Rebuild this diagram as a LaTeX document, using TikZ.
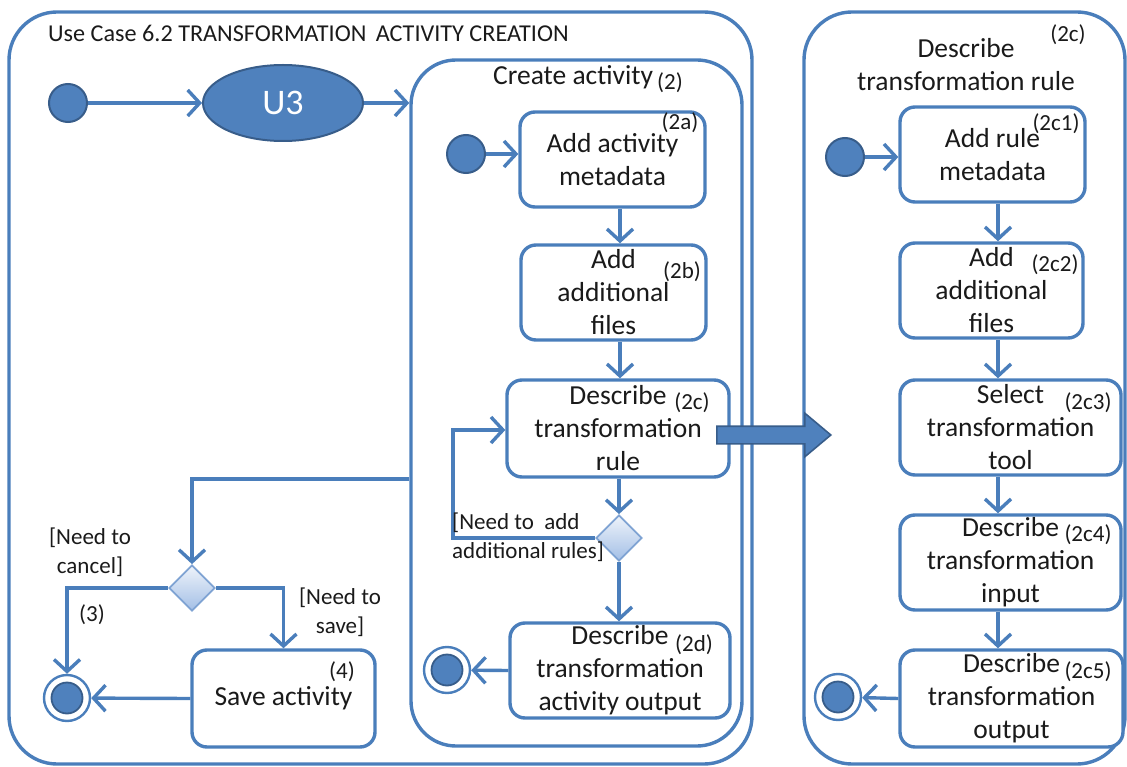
\documentclass[tikz,border=0pt]{standalone}
\usepackage{fontspec}
\setmainfont{Carlito}
\usetikzlibrary{arrows.meta,shapes.geometric,shapes.arrows,calc}
\definecolor{lblue}{HTML}{4A7EBB}
\definecolor{cfill}{HTML}{4F81BD}
\definecolor{cdark}{HTML}{385D8A}
\definecolor{dtop}{HTML}{EEF3FA}
\definecolor{dbot}{HTML}{A3BFE6}
\definecolor{dline}{HTML}{7FA3D3}
\definecolor{txt}{HTML}{1A1A1A}
\newcommand{\fMain}{\fontsize{27.5}{33}\selectfont}
\newcommand{\fLab}{\fontsize{23}{29}\selectfont}
\newcommand{\fTitle}{\fontsize{24.2}{28}\selectfont}
\newcommand{\fUthree}{\fontsize{36}{40}\selectfont}
\begin{document}
\begin{tikzpicture}[x=1pt,y=-1pt,
  panel/.style={draw=lblue, line width=3.4pt, rounded corners=#1, inner sep=0pt},
  actbox/.style={draw=lblue, line width=3.4pt, rounded corners=15pt, fill=white, align=center, inner sep=0pt, font=\fMain, text=txt},
  startnode/.style={circle, fill=cfill, draw=cdark, line width=2pt, minimum size=38pt, inner sep=0pt},
  endnode/.style={circle, draw=lblue, line width=2.4pt, fill=white, minimum size=46pt, inner sep=0pt,
     path picture={\fill[cfill, draw=cdark, line width=1.8pt] (path picture bounding box.center) circle (15.5pt);}},
  decision/.style={diamond, draw=dline, line width=1.8pt, top color=dtop, bottom color=dbot, minimum width=46pt, minimum height=46pt, inner sep=0pt},
  lab/.style={font=\fLab, text=txt, inner sep=0pt},
  guard/.style={font=\fLab, text=txt, inner sep=0pt},
  flow/.style={draw=lblue, line width=3.4pt, -{Straight Barb[length=12pt,width=26pt]}},
  main/.style={font=\fMain, text=txt, inner sep=0pt}
]
\useasboundingbox (0,0) rectangle (1127,767);

% panels
\node[panel=48pt, minimum width=743pt, minimum height=752pt] (leftp) at (380.5,388) {};
\node[panel=45pt, minimum width=331pt, minimum height=686pt] (create) at (576.5,403) {};
\node[panel=48pt, minimum width=321pt, minimum height=752pt] (rightp) at (964.5,388) {};

% titles
\node[anchor=base west, font=\fTitle, text=txt, inner sep=0pt] (title) at (48,42) {Use Case 6.2 TRANSFORMATION\, ACTIVITY CREATION};
\node[main, anchor=base west] (ctitle) at (493,85) {Create activity};
\node[lab, anchor=base west] (ctitlen) at (657,90) {(2)};
\node[main, align=center, anchor=base] (rtitle) at (966,91) {Describe\\transformation rule};
\node[lab] (rtitlen) at (1068,35) {(2c)};

% left part
\node[startnode] (s1) at (68,103) {};
\node[ellipse, fill=cfill, draw=cdark, line width=2pt, minimum width=160pt, minimum height=76pt, inner sep=0pt, text=white, font=\fUthree] (u3) at (283,103) {U3};
\node[decision] (dec1) at (192,588) {};
\node[endnode] (e1) at (67,698) {};
\node[actbox, minimum width=183pt, minimum height=97pt] (save) at (283.5,698.5) {Save activity};

% create activity
\node[startnode] (s2) at (466,154) {};
\node[actbox, minimum width=185pt, minimum height=95pt] (a2a) at (612.5,159.5) {Add activity\\metadata};
\node[actbox, minimum width=185pt, minimum height=95pt] (a2b) at (613.5,292.5) {Add\\additional\\files};
\node[actbox, minimum width=222pt, minimum height=97pt] (a2c) at (618,428.5) {Describe\\transformation\\rule};
\node[decision] (dec2) at (619,538) {};
\node[actbox, minimum width=220pt, minimum height=95pt] (a2d) at (620,670.5) {Describe\\transformation\\activity output};
\node[endnode] (e2) at (447,670) {};

% right panel
\node[startnode] (s3) at (845,157) {};
\node[actbox, minimum width=185pt, minimum height=95pt] (r1) at (992.5,154.5) {Add rule\\metadata};
\node[actbox, minimum width=183pt, minimum height=95pt] (r2) at (991.5,290.5) {Add\\additional\\files};
\node[actbox, minimum width=221pt, minimum height=95pt] (r3) at (1010.5,427.5) {Select\\transformation\\tool};
\node[actbox, minimum width=221pt, minimum height=95pt] (r4) at (1010.5,562.5) {Describe\\transformation\\input};
\node[actbox, minimum width=223pt, minimum height=97pt] (r5) at (1011.5,698.5) {Describe\\transformation\\output};
\node[endnode] (e3) at (838,697) {};

% big arrow
\node[single arrow, fill=cfill, draw=cdark, line width=1.6pt, minimum height=114pt,
      single arrow head extend=13pt, single arrow tip angle=80, inner sep=0pt, anchor=tail] (big) at (716,435) {\rule{0pt}{16pt}};

% helper coordinates
\coordinate (colA) at (620,0);
\coordinate (colR) at (998,0);
\coordinate (loopc) at (453,430);
\coordinate (forkY) at (0,479);

% flows
\draw[flow] (s1) -- (u3);
\draw[flow] (u3) -- (u3 -| create.west);
\draw[flow] (s2) -- (s2 -| a2a.west);
\draw[flow] (a2a.south -| colA) -- (a2b.north -| colA);
\draw[flow] (a2b.south -| colA) -- (a2c.north -| colA);
\draw[flow] (a2c.south -| dec2) -- (dec2.north);
\draw[flow] (dec2.south) -- (a2d.north -| dec2);
\draw[flow] (dec2.west) -| (loopc) -- (loopc -| a2c.west);
\draw[flow] (a2d.west) -- (e2);
\draw[flow] (create.west |- forkY) -| (dec1.north);
\draw[flow] (dec1.west) -| (e1.north);
\draw[flow] (dec1.east) -| (save.north);
\draw[flow] (save.west) -- (e1);

\draw[flow] (s3) -- (s3 -| r1.west);
\draw[flow] (r1.south -| colR) -- (r2.north -| colR);
\draw[flow] (r2.south -| colR) -- (r3.north -| colR);
\draw[flow] (r3.south -| colR) -- (r4.north -| colR);
\draw[flow] (r4.south -| colR) -- (r5.north -| colR);
\draw[flow] (r5.west) -- (e3);

% labels
\node[lab] (l2a) at (680,123) {(2a)};
\node[lab] (l2b) at (682,272) {(2b)};
\node[lab] (l2c) at (692,403) {(2c)};
\node[lab] (l2d) at (694,645) {(2d)};
\node[lab] (l2c1) at (1056,124) {(2c1)};
\node[lab] (l2c2) at (1055,265) {(2c2)};
\node[lab] (l2c3) at (1088,403) {(2c3)};
\node[lab] (l2c4) at (1088,535) {(2c4)};
\node[lab] (l2c5) at (1088,672) {(2c5)};
\node[lab] (l4) at (342,672) {(4)};
\node[lab] (l3) at (92,615) {(3)};
\node[guard, align=center] (gcancel) at (90,552.5) {[Need to\\cancel]};
\node[guard, align=center] (gsave) at (340,612) {[Need to\\save]};
\node[guard, align=left, anchor=west] (gadd) at (452,537.5) {[Need to\ \ add\\additional rules]};
\end{tikzpicture}
\end{document}
